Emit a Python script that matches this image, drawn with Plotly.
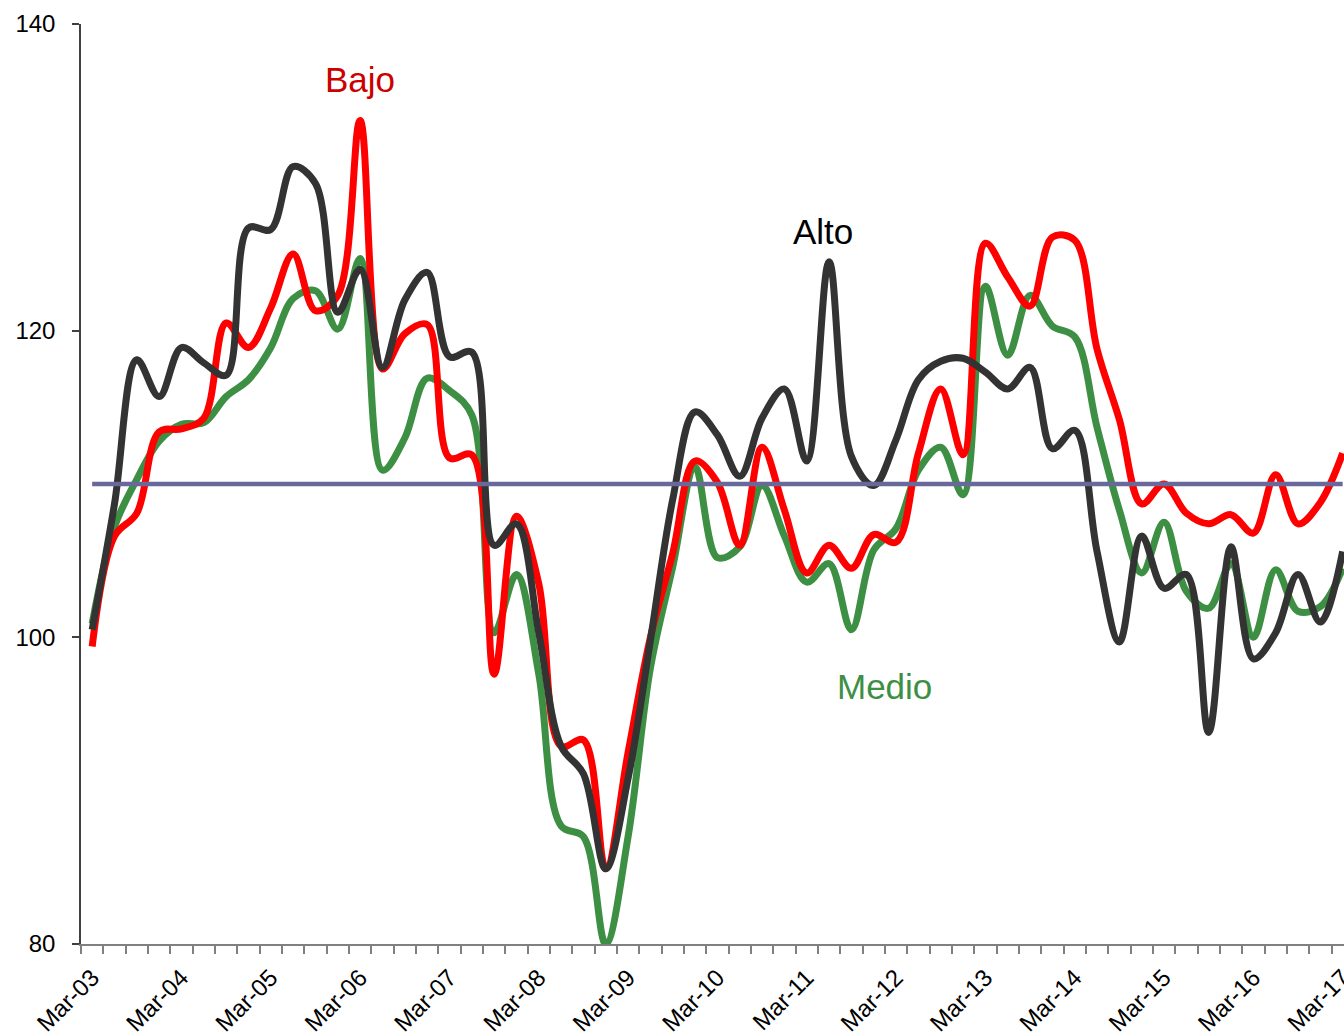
import plotly.graph_objects as go

# Quarterly categories (Mar-03 .. Mar-17)
trimestres = [
    "Mar-03", "Jun-03", "Sep-03", "Dic-03",
    "Mar-04", "Jun-04", "Sep-04", "Dic-04",
    "Mar-05", "Jun-05", "Sep-05", "Dic-05",
    "Mar-06", "Jun-06", "Sep-06", "Dic-06",
    "Mar-07", "Jun-07", "Sep-07", "Dic-07",
    "Mar-08", "Jun-08", "Sep-08", "Dic-08",
    "Mar-09", "Jun-09", "Sep-09", "Dic-09",
    "Mar-10", "Jun-10", "Sep-10", "Dic-10",
    "Mar-11", "Jun-11", "Sep-11", "Dic-11",
    "Mar-12", "Jun-12", "Sep-12", "Dic-12",
    "Mar-13", "Jun-13", "Sep-13", "Dic-13",
    "Mar-14", "Jun-14", "Sep-14", "Dic-14",
    "Mar-15", "Jun-15", "Sep-15", "Dic-15",
    "Mar-16", "Jun-16", "Sep-16", "Dic-16",
    "Mar-17",
]

alto = [
    100.5, 108.7, 118.1, 115.7, 118.9, 117.9, 117.1, 126.7,
    126.6, 130.7, 129.6, 121.2, 124.0, 117.6, 122.0, 123.8,
    118.3, 118.6, 106.0, 107.4, 100.3, 92.9, 91.1, 84.9,
    90.8, 99.8, 109.0, 114.7, 113.2, 110.5, 114.3, 116.2,
    111.5, 124.5, 111.8, 109.9, 112.9, 116.8, 118.0, 118.2,
    117.3, 116.2, 117.6, 112.3, 113.5, 105.6, 99.7, 106.6,
    103.2, 104.1, 93.8, 105.9, 98.6, 100.3, 104.1, 101.0,
    105.6,
]

bajo = [
    99.4, 106.6, 108.1, 113.4, 113.6, 114.3, 120.5, 118.9,
    121.5, 125.0, 121.3, 122.3, 133.7, 117.5, 119.8, 120.4,
    111.7, 111.9, 97.6, 107.9, 103.5, 92.9, 93.3, 84.9,
    92.5, 100.0, 105.5, 111.5, 110.1, 106.0, 112.4, 108.3,
    104.2, 106.0, 104.5, 106.7, 106.2, 112.0, 116.2, 111.9,
    125.7, 123.5, 121.6, 126.1, 125.9, 118.8, 114.2, 108.7,
    110.0, 108.1, 107.4, 108.0, 106.8, 110.6, 107.4, 108.8,
    112.0,
]

medio = [
    100.9, 107.2, 110.3, 112.8, 113.9, 114.0, 115.7, 116.8,
    118.9, 122.1, 122.6, 120.1, 124.7, 110.9, 113.0, 116.9,
    116.1, 114.5, 100.3, 104.1, 97.6, 87.7, 87.0, 80.0,
    87.0, 98.0, 104.6, 111.1, 105.2, 105.9, 109.9, 106.6,
    103.6, 104.8, 100.5, 105.7, 107.1, 110.9, 112.4, 109.3,
    122.9, 118.4, 122.3, 120.3, 119.6, 113.7, 108.3, 104.2,
    107.5, 103.0, 101.9, 104.8, 100.0, 104.4, 101.7, 102.0,
    104.5,
]

nivel_referencia = 110.0
promedio = [nivel_referencia for _ in trimestres]

etiquetas_x = ["Mar-03", "Mar-04", "Mar-05", "Mar-06", "Mar-07", "Mar-08",
               "Mar-09", "Mar-10", "Mar-11", "Mar-12", "Mar-13", "Mar-14",
               "Mar-15", "Mar-16", "Mar-17"]
valores_y = [80, 100, 120, 140]

x = list(range(len(trimestres)))
posiciones_x = [trimestres.index(e) for e in etiquetas_x]

fig = go.Figure()

series = [
    ("Medio", medio, "#3d8f44"),
    ("Bajo", bajo, "#ff0000"),
    ("Alto", alto, "#333333"),
]
for nombre, vals, color in series:
    fig.add_trace(go.Scatter(
        x=x, y=vals, name=nombre, mode="lines",
        line=dict(color=color, width=7, shape="spline", smoothing=1.0),
        hoverinfo="skip",
    ))

fig.add_trace(go.Scatter(
    x=x, y=promedio, name="Promedio", mode="lines",
    line=dict(color="#68689a", width=4.5),
    hoverinfo="skip",
))

tick_font = dict(family="Liberation Sans, Arial, sans-serif", size=24, color="#000000")
label_font = "Liberation Sans Narrow, Arial Narrow, Liberation Sans, Arial, sans-serif"

fig.update_layout(
    width=1344, height=1035,
    margin=dict(l=81, r=0, t=24, b=91),
    plot_bgcolor="white", paper_bgcolor="white",
    showlegend=False,
    xaxis=dict(
        range=[-0.5, 56.06],
        automargin=False,
        tickmode="array", tickvals=posiciones_x, ticktext=etiquetas_x,
        tickangle=-45, tickfont=tick_font,
        ticklabeloverflow="allow",
        ticks="outside", ticklen=8, tickcolor="rgba(0,0,0,0)",
        showline=True, linecolor="#808080", linewidth=2,
        showgrid=False, zeroline=False,
        minor=dict(tick0=-0.5, dtick=1, ticks="outside", ticklen=8,
                   tickcolor="#808080", tickwidth=1.5, showgrid=False),
    ),
    yaxis=dict(
        range=[80, 140],
        automargin=False,
        tickmode="array", tickvals=valores_y,
        tickfont=tick_font,
        ticks="outside", ticklen=7, tickcolor="#404040", tickwidth=1.5,
        ticklabelstandoff=12,
        showline=True, linecolor="#404040", linewidth=1.5,
        showgrid=False, zeroline=False,
    ),
    annotations=[
        dict(x=12, y=136.4, text="Bajo", showarrow=False,
             font=dict(family=label_font, size=35, color="#cc0000")),
        dict(x=32.75, y=126.5, text="Alto", showarrow=False,
             font=dict(family=label_font, size=35, color="#000000")),
        dict(x=35.5, y=96.8, text="Medio", showarrow=False,
             font=dict(family=label_font, size=35, color="#3d8f44")),
    ],
)

# Remove the default page margin so the figure fills the 1344x1035 window exactly.
fig.write_html(
    "out.html",
    config={"displayModeBar": False},
    post_script="document.body.style.margin='0';document.body.style.overflow='hidden';",
)
